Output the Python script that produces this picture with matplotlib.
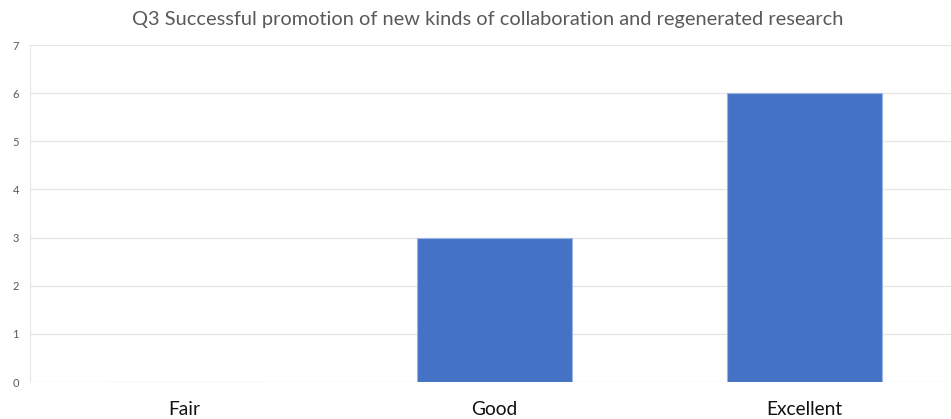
import matplotlib.pyplot as plt

# Survey answers for Q3
categories = ['Fair', 'Good', 'Excellent']
counts = [0, 3, 6]
y_ticks = [0, 1, 2, 3, 4, 5, 6, 7]

plt.rcParams['font.family'] = ['Lato', 'DejaVu Sans']

fig = plt.figure(figsize=(9.51, 4.19), dpi=100)
ax = fig.add_axes([30 / 951, 37 / 419, 921 / 951, 337 / 419])

x = range(len(categories))
ax.bar(x, counts, width=0.5, color='#4472C4', edgecolor='#9DB5E3', linewidth=0.8, zorder=3)

ax.set_xlim(-0.497, 2.474)
ax.set_ylim(0, 7)
ax.set_yticks(y_ticks)
ax.set_xticks(list(x))
ax.set_xticklabels(categories, fontsize=13.8, color='#111111')
ax.tick_params(axis='x', length=0, pad=14)
ax.tick_params(axis='y', length=0, pad=8, labelsize=8, labelcolor='#595959')

ax.grid(axis='y', color='#E6E6E6', linewidth=0.9, zorder=0)
for side in ['top', 'right', 'bottom']:
    ax.spines[side].set_visible(False)
ax.spines['left'].set_color('#E6E6E6')

fig.text(488 / 951, 1 - 20 / 419, 'Q3 Successful promotion of new kinds of collaboration and regenerated research',
         ha='center', va='center', fontsize=14.4, color='#595959')

fig.savefig('out.png', dpi=100)
